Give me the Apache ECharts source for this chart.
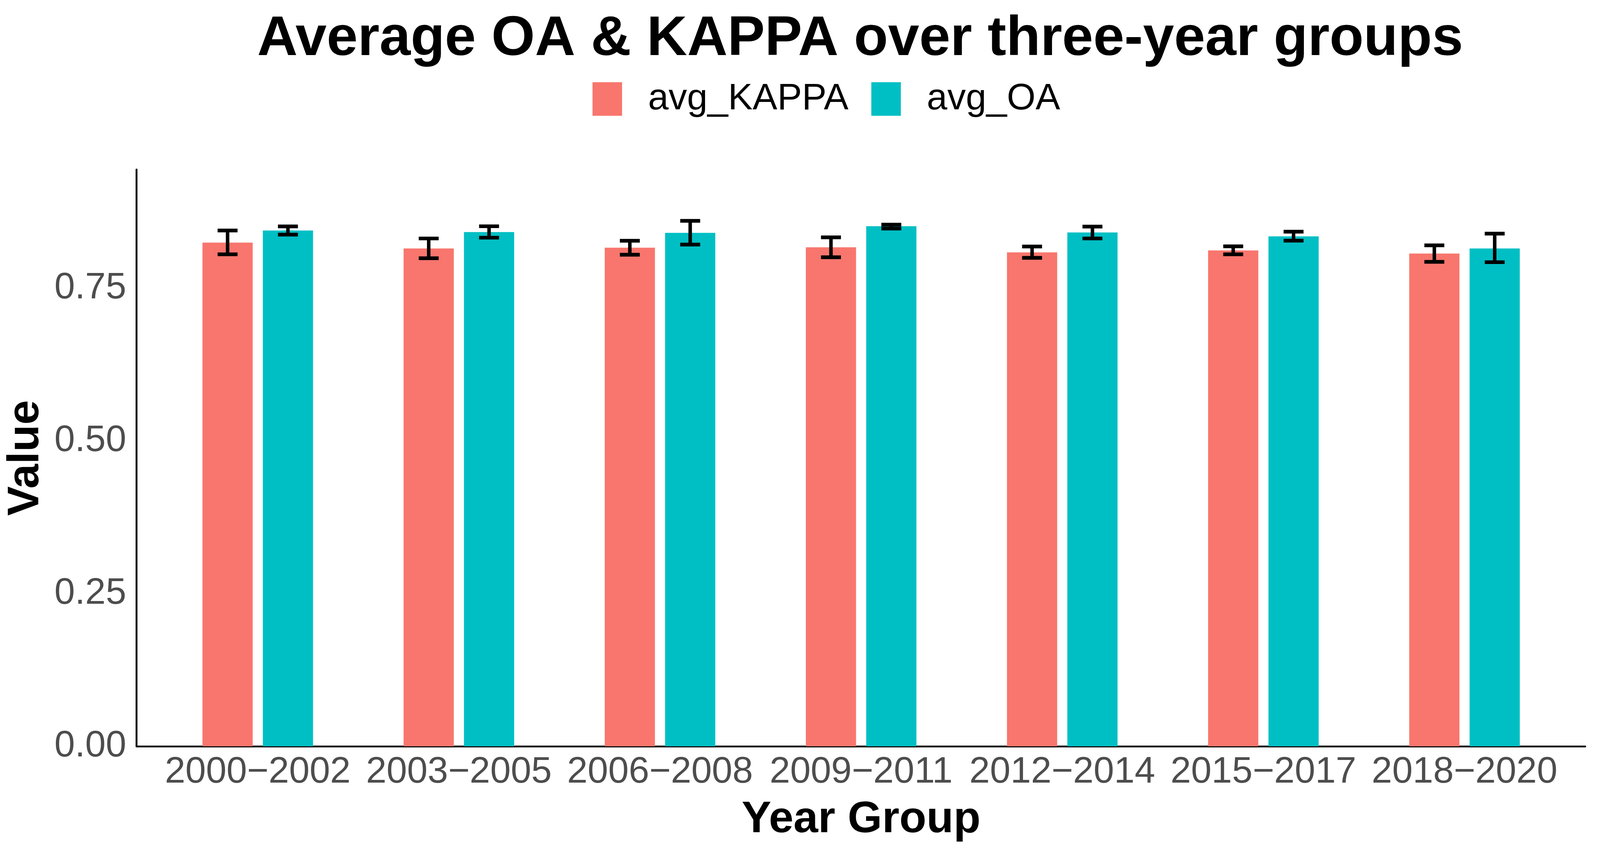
<!DOCTYPE html>
<html>
<head>
<meta charset="utf-8">
<script src="https://cdn.jsdelivr.net/npm/echarts@6/dist/echarts.min.js"></script>
<style>
html,body{margin:0;padding:0;background:#fff;overflow:hidden;}
#chart{position:absolute;left:0;top:0;}
</style>
</head>
<body>
<div id="chart"></div>
<script>
// ---- data ----
var categories = ['2000\u22122002','2003\u22122005','2006\u22122008','2009\u22122011','2012\u22122014','2015\u22122017','2018\u22122020'];
var seriesNames = ['avg_KAPPA','avg_OA'];
var kappaMean = [0.8243,0.8147,0.8160,0.8166,0.8083,0.8115,0.8064];
var kappaLow  = [0.8051,0.7987,0.8045,0.8004,0.7994,0.8051,0.7928];
var kappaHigh = [0.8441,0.8311,0.8273,0.8330,0.8179,0.8183,0.8198];
var oaMean = [0.8441,0.8415,0.8403,0.8511,0.8409,0.8345,0.8147];
var oaLow  = [0.8374,0.8324,0.8211,0.8473,0.8311,0.8275,0.7923];
var oaHigh = [0.8509,0.8511,0.8599,0.8537,0.8505,0.8422,0.8390];
var yTicks = [0, 0.25, 0.5, 0.75];

// ---- layout scaling (design size 4334 x 2174) ----
var W = window.innerWidth || 4334, H = window.innerHeight || 2174;
var sx = W / 4334, sy = H / 2174, s = Math.min(sx, sy);
function X(v){ return v * sx; }
function Y(v){ return v * sy; }
function F(v){ return v * s; }
var el = document.getElementById('chart');
el.style.width = W + 'px'; el.style.height = H + 'px';

// ---- style ----
var FONT = "'Liberation Sans', Arial, Helvetica, sans-serif";
var colors = ['#F8766D', '#00BFC4'];
var barW = X(136), barGapPx = X(27.5);
var capHalf = X(27);
var yMax = 0.944;

function errData(lo, hi){
  return lo.map(function(v,i){ return [i, v, hi[i]]; });
}
function errSeries(name, lo, hi, offset){
  return {
    type: 'custom', name: name, xAxisIndex: 0, yAxisIndex: 0, z: 10,
    data: errData(lo, hi),
    renderItem: function(params, api){
      var idx = api.value(0);
      var pLo = api.coord([idx, api.value(1)]);
      var pHi = api.coord([idx, api.value(2)]);
      var x = pLo[0] + offset;
      return {type:'group', children:[
        {type:'line', shape:{x1:x, y1:pHi[1], x2:x, y2:pLo[1]}, style:{stroke:'#000', lineWidth:F(9.5)}},
        {type:'line', shape:{x1:x-capHalf, y1:pHi[1], x2:x+capHalf, y2:pHi[1]}, style:{stroke:'#000', lineWidth:F(10)}},
        {type:'line', shape:{x1:x-capHalf, y1:pLo[1], x2:x+capHalf, y2:pLo[1]}, style:{stroke:'#000', lineWidth:F(10)}}
      ]};
    }
  };
}

var chart = echarts.init(el, null, {renderer:'canvas', width: W, height: H});
var off = (barW + barGapPx) / 2;
var option = {
  backgroundColor: '#ffffff',
  animation: false,
  graphic: [{
    type: 'text', x: X(2330), y: Y(102), z: 100,
    style: {text: 'Average OA & KAPPA over three-year groups', font: 'bold ' + F(151.5) + 'px ' + FONT,
            fill: '#000', textAlign: 'center', textVerticalAlign: 'middle'}
  }],
  legend: {
    data: seriesNames, left: X(1605), top: Y(206), padding: 0,
    itemWidth: X(80), itemHeight: Y(86), itemGap: X(62), icon: 'rect',
    textStyle: {fontFamily: FONT, fontSize: F(100), color: '#000', padding: [0,0,0,X(65)]}
  },
  grid: [
    {left: X(425.8), right: X(94.6), top: Y(434), bottom: Y(263)},
    {left: X(370), right: X(40), top: Y(434), bottom: Y(263)}
  ],
  xAxis: [
    {type: 'category', gridIndex: 0, data: categories, boundaryGap: true,
     axisLine: {show: false}, axisTick: {show: false},
     axisLabel: {interval: 0, fontFamily: FONT, fontSize: F(100), color: '#4D4D4D', margin: Y(19)},
     name: 'Year Group', nameLocation: 'middle', nameGap: Y(132),
     nameTextStyle: {fontFamily: FONT, fontSize: F(120), fontWeight: 'bold', color: '#000'}},
    {type: 'value', gridIndex: 1, min: 0, max: 1,
     axisLine: {show: true, lineStyle: {color: '#000', width: F(5)}},
     axisTick: {show: false}, axisLabel: {show: false}, splitLine: {show: false}}
  ],
  yAxis: [
    {type: 'value', gridIndex: 0, min: 0, max: yMax, show: false, splitLine: {show: false}},
    {type: 'value', gridIndex: 1, min: 0, max: yMax, interval: 0.25,
     axisLine: {show: true, lineStyle: {color: '#000', width: F(5)}},
     axisTick: {show: false}, splitLine: {show: false},
     axisLabel: {fontFamily: FONT, fontSize: F(100), color: '#4D4D4D', margin: X(28),
                 showMaxLabel: false,
                 formatter: function(v){ return yTicks.indexOf(v) >= 0 ? v.toFixed(2) : ''; }},
     name: 'Value', nameLocation: 'middle', nameGap: X(240),
     nameTextStyle: {fontFamily: FONT, fontSize: F(120), fontWeight: 'bold', color: '#000'}}
  ],
  series: [
    {type: 'bar', name: seriesNames[0], xAxisIndex: 0, yAxisIndex: 0, data: kappaMean,
     barWidth: barW, barGap: (barGapPx / barW * 100) + '%', itemStyle: {color: colors[0]}},
    {type: 'bar', name: seriesNames[1], xAxisIndex: 0, yAxisIndex: 0, data: oaMean,
     barWidth: barW, barGap: (barGapPx / barW * 100) + '%', itemStyle: {color: colors[1]}},
    errSeries(seriesNames[0], kappaLow, kappaHigh, -off),
    errSeries(seriesNames[1], oaLow, oaHigh, off),
    {type: 'line', xAxisIndex: 1, yAxisIndex: 1, data: [], silent: true}
  ]
};
chart.setOption(option);
</script>
</body>
</html>
